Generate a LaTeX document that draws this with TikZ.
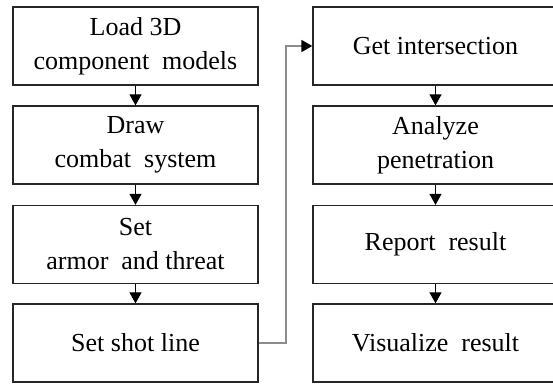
\documentclass[tikz,border=0pt]{standalone}
\usepackage{fontspec}
\setmainfont{Liberation Serif}
\usetikzlibrary{arrows.meta, positioning}

\begin{document}
\begin{tikzpicture}[
    x=1pt, y=-1pt,
    box/.style={rectangle, draw=black!85, line width=1.3pt, minimum width=245pt, minimum height=78pt, inner sep=0pt, align=center, font=\fontsize{26}{34}\selectfont},
    arrow/.style={-{Triangle[width=12pt,length=11pt]}, line width=1.2pt},
    link/.style={-{Triangle[width=12pt,length=11pt,color=black]}, line width=1.8pt, draw=black!45},
]
\useasboundingbox (0,0) rectangle (553,383);
\clip (0,0) rectangle (553,383);

% Left column
\node[box] (load) at (135.5,46) {Load 3D\\component~~models};
\node[box] (draw) at (135.5,145) {Draw\\combat~~system};
\node[box] (set) at (135.5,244.5) {Set\\armor~~and threat};
\node[box] (shot) at (135.5,343) {Set shot line};
\draw[arrow] (load) -- (draw);
\draw[arrow] (draw) -- (set);
\draw[arrow] (set) -- (shot);

% Right column
\node[box] (inter) at (435.5,46) {Get intersection};
\node[box] (pen) at (435.5,145) {Analyze\\penetration};
\node[box] (report) at (435.5,244.5) {Report~~result};
\node[box] (vis) at (435.5,343) {Visualize~~result};
\draw[arrow] (inter) -- (pen);
\draw[arrow] (pen) -- (report);
\draw[arrow] (report) -- (vis);

% Shot line to intersection
\coordinate (bend) at (286,343);
\draw[link] (shot.east) -- (bend) |- (inter.west);
\end{tikzpicture}
\end{document}
